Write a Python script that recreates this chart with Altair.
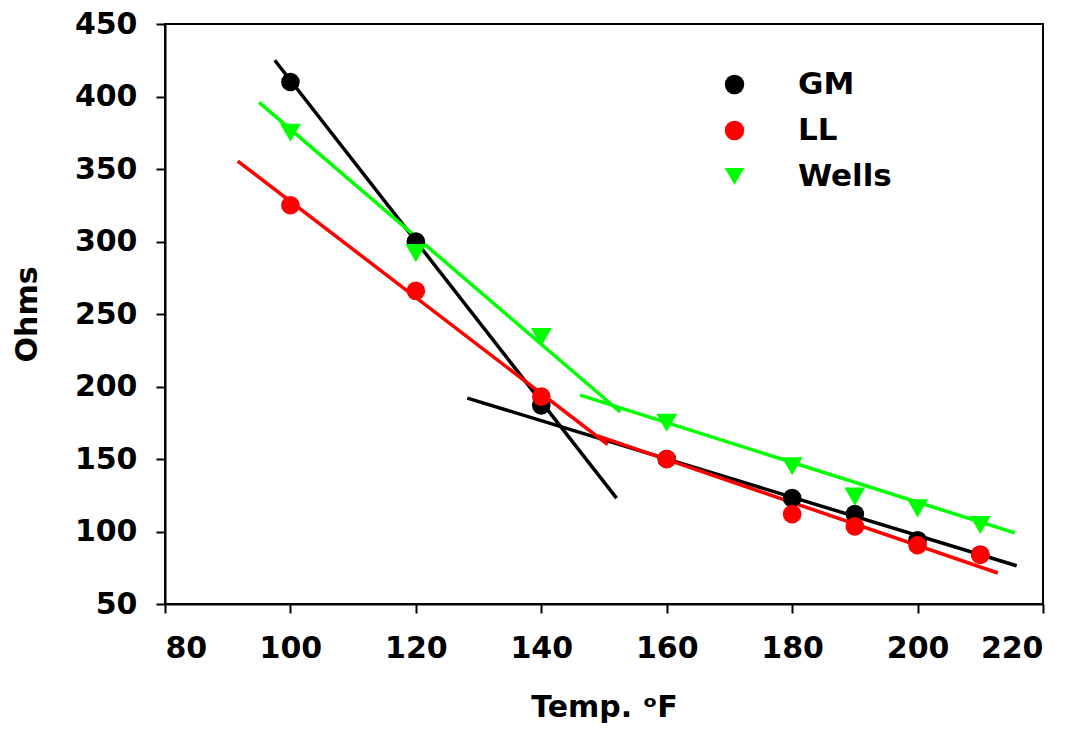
import altair as alt
import pandas as pd

# ---- data ----
temps = [100, 120, 140, 160, 180, 190, 200, 210]
gm = [410, 300, 187, 150, 123, 112, 94, 84]
ll = [325, 266, 193, 150, 112, 103.5, 90.5, 84]
wells = [375, 292, 234, 175, 145, 124, 116, 104.5]

series_names = ["GM", "LL", "Wells"]
series_colors = ["#000000", "#FF0000", "#00FF00"]
series_shapes = ["circle", "circle", "triangle-down"]

# fitted straight-line segments (two per series)
seg_series = ["GM", "GM", "LL", "LL", "Wells", "Wells"]
seg_x1 = [97.5, 128.2, 91.6, 149.0, 95.0, 146.2]
seg_y1 = [425.0, 192.0, 355.5, 166.0, 396.0, 194.0]
seg_x2 = [152.0, 215.8, 150.6, 212.8, 152.6, 215.5]
seg_y2 = [123.0, 76.4, 160.0, 71.4, 182.4, 99.0]

x_ticks = [80, 100, 120, 140, 160, 180, 200, 220]
y_ticks = [50, 100, 150, 200, 250, 300, 350, 400, 450]

# ---- tables ----
rows = []
for name, vals in zip(series_names, [gm, ll, wells]):
    for t, v in zip(temps, vals):
        rows.append({"series": name, "temp": t, "ohms": v})
pts = pd.DataFrame(rows)

segs = pd.DataFrame({"fit": seg_series, "x1": seg_x1, "y1": seg_y1,
                     "x2": seg_x2, "y2": seg_y2})

FONT = "DejaVu Sans"

xscale = alt.Scale(domain=[80, 220], nice=False, zero=False)
yscale = alt.Scale(domain=[50, 450], nice=False, zero=False)

xaxis = alt.Axis(values=x_ticks, title="Temp. ᵒF", grid=False,
                 labelPadding=20, titlePadding=29)
yaxis = alt.Axis(values=y_ticks, title="Ohms", grid=False,
                 labelPadding=19, titlePadding=32)

lines = alt.Chart(segs).mark_rule(strokeWidth=3.5).encode(
    x=alt.X("x1:Q", scale=xscale, axis=xaxis),
    x2="x2:Q",
    y=alt.Y("y1:Q", scale=yscale, axis=yaxis),
    y2="y2:Q",
    stroke=alt.Stroke("fit:N",
                      scale=alt.Scale(domain=series_names, range=series_colors),
                      legend=None),
)

legend = alt.Legend(title=None, orient="none", legendX=554, legendY=45)
color_enc = alt.Color("series:N",
                      scale=alt.Scale(domain=series_names, range=series_colors),
                      legend=legend)
shape_enc = alt.Shape("series:N",
                      scale=alt.Scale(domain=series_names, range=series_shapes),
                      legend=legend)

base_pts = alt.Chart(pts).encode(
    x=alt.X("temp:Q", scale=xscale, axis=xaxis),
    y=alt.Y("ohms:Q", scale=yscale, axis=yaxis),
    color=color_enc,
    shape=shape_enc,
)

circles = base_pts.mark_point(filled=True, opacity=1, size=346).transform_filter(
    alt.datum.series != "Wells")
triangles = base_pts.mark_point(filled=True, opacity=1, size=440).transform_filter(
    alt.datum.series == "Wells")

chart = alt.layer(lines, circles, triangles).resolve_scale(
    stroke="independent"
).properties(
    width=878, height=580,
    autosize=alt.AutoSizeParams(type="none"),
    padding={"left": 157, "top": 16, "right": 20, "bottom": 121},
).configure_view(
    stroke="#000000", strokeWidth=2
).configure_axis(
    domainColor="#000000", domainWidth=2,
    tickColor="#000000", tickWidth=2, tickSize=9,
    labelFont=FONT, labelFontSize=30, labelFontWeight="bold", labelColor="#000000",
    titleFont=FONT, titleFontSize=30, titleFontWeight="bold", titleColor="#000000",
).configure_legend(
    labelFont=FONT, labelFontSize=31, labelFontWeight="bold", labelColor="#000000",
    symbolSize=380, symbolStrokeWidth=0, labelOffset=48, rowPadding=14,
)

chart.save("out.html", embed_options={"renderer": "svg", "actions": False})
